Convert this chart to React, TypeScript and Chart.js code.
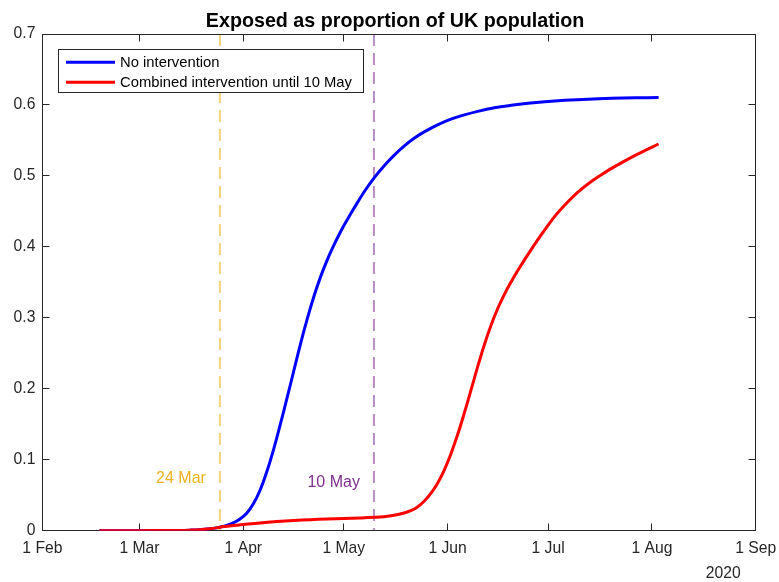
import React, { useEffect, useRef } from 'react';
import { Chart, registerables } from 'chart.js';

Chart.register(...registerables);

// ---- data ----
const monthTickDays = [0, 29, 60, 90, 121, 151, 182, 213]; // days since 1 Feb 2020
const monthTickLabels = ['1 Feb', '1 Mar', '1 Apr', '1 May', '1 Jun', '1 Jul', '1 Aug', '1 Sep'];
const yearLabel = '2020';
const yTickValues = [0, 0.1, 0.2, 0.3, 0.4, 0.5, 0.6, 0.7];
const titleText = 'Exposed as proportion of UK population';
const seriesNames = ['No intervention', 'Combined intervention until 10 May'];

const noInterventionDays = [17, 30, 36, 40, 44, 47, 50, 52, 53, 55, 57, 59, 61, 63, 65, 67, 69, 71, 73, 75, 77, 79, 81, 83, 85, 87, 89, 91, 93, 96, 99, 102, 105, 108, 111, 114, 118, 122, 126, 130, 135, 140, 145, 150, 156, 163, 170, 177, 184];
const noInterventionValues = [0, 0.0001, 0.0002, 0.0004, 0.0008, 0.0014, 0.0027, 0.004, 0.005, 0.0075, 0.011, 0.0165, 0.0245, 0.038, 0.057, 0.083, 0.114, 0.149, 0.186, 0.224, 0.262, 0.297, 0.329, 0.357, 0.381, 0.402, 0.421, 0.438, 0.454, 0.477, 0.497, 0.514, 0.529, 0.542, 0.553, 0.562, 0.572, 0.58, 0.586, 0.591, 0.596, 0.5995, 0.6023, 0.6045, 0.6065, 0.6082, 0.6093, 0.61, 0.6105];

const combinedDays = [17, 30, 36, 40, 44, 47, 50, 52, 53, 55, 57, 60, 65, 70, 75, 80, 85, 90, 95, 99, 102, 105, 108, 110, 112, 114, 116, 118, 120, 122, 124, 126, 128, 130, 132, 134, 136, 138, 140, 142, 144, 146, 148, 150, 153, 156, 160, 164, 168, 172, 176, 180, 184];
const combinedValues = [0, 0.0001, 0.0002, 0.0004, 0.0008, 0.0014, 0.0027, 0.004, 0.005, 0.0062, 0.0074, 0.0088, 0.011, 0.0128, 0.0143, 0.0155, 0.0165, 0.0173, 0.018, 0.0188, 0.0198, 0.0218, 0.025, 0.0282, 0.0335, 0.0415, 0.0525, 0.067, 0.0855, 0.1085, 0.1355, 0.166, 0.1985, 0.2315, 0.2625, 0.29, 0.3135, 0.3335, 0.351, 0.367, 0.382, 0.3965, 0.4105, 0.424, 0.443, 0.459, 0.4775, 0.4925, 0.505, 0.516, 0.5265, 0.536, 0.545];

const markerDays = [53, 99];
const markerLabels = ['24 Mar', '10 May'];
const markerLabelValues = [0.074, 0.068];

// ---- styles ----
const FONT = '"Liberation Sans", Arial, Helvetica, sans-serif';
const AXIS_COLOR = '#262626';
const seriesColors = ['#0000ff', '#ff0000'];
const markerLineColors = ['rgba(237,177,32,0.6)', 'rgba(126,47,142,0.55)'];
const markerTextColors = ['#EDB120', '#7E2F8E'];

const matlabPlugin = {
  id: 'matlabDecor',
  beforeDatasetsDraw(chart: any) {
    const { ctx, chartArea: a, scales } = chart;
    const x = scales.x;
    const y = scales.y;
    ctx.save();
    markerDays.forEach((d, i) => {
      const px = x.getPixelForValue(d);
      ctx.strokeStyle = markerLineColors[i];
      ctx.lineWidth = 2;
      ctx.setLineDash([12, 7]);
      ctx.beginPath();
      ctx.moveTo(px, a.top);
      ctx.lineTo(px, a.bottom);
      ctx.stroke();
      ctx.setLineDash([]);
      ctx.fillStyle = markerTextColors[i];
      ctx.font = '16px ' + FONT;
      ctx.textAlign = 'right';
      ctx.textBaseline = 'middle';
      ctx.fillText(markerLabels[i], px - 14, y.getPixelForValue(markerLabelValues[i]));
    });
    const L = Math.floor(a.left) + 0.5;
    const R = Math.floor(a.right) + 0.5;
    const T = Math.floor(a.top) + 0.5;
    const B = Math.floor(a.bottom) + 0.5;
    ctx.strokeStyle = AXIS_COLOR;
    ctx.lineWidth = 1;
    ctx.strokeRect(L, T, R - L, B - T);
    const tl = 7;
    ctx.beginPath();
    monthTickDays.forEach((d) => {
      const px = Math.floor(x.getPixelForValue(d)) + 0.5;
      ctx.moveTo(px, B);
      ctx.lineTo(px, B - tl);
      ctx.moveTo(px, T);
      ctx.lineTo(px, T + tl);
    });
    yTickValues.forEach((v) => {
      const py = Math.floor(y.getPixelForValue(v)) + 0.5;
      ctx.moveTo(L, py);
      ctx.lineTo(L + tl, py);
      ctx.moveTo(R, py);
      ctx.lineTo(R - tl, py);
    });
    ctx.stroke();
    ctx.restore();
  },
  afterDatasetsDraw(chart: any) {
    const { ctx, chartArea: a } = chart;
    ctx.save();
    const bx = 58.5, by = 49.5, bw = 305, bh = 43;
    ctx.fillStyle = '#ffffff';
    ctx.fillRect(bx, by, bw, bh);
    ctx.strokeStyle = AXIS_COLOR;
    ctx.lineWidth = 1;
    ctx.strokeRect(bx, by, bw, bh);
    const rows = [62.3, 82.3];
    seriesNames.forEach((name, i) => {
      ctx.strokeStyle = seriesColors[i];
      ctx.lineWidth = 3;
      ctx.beginPath();
      ctx.moveTo(66, rows[i]);
      ctx.lineTo(115, rows[i]);
      ctx.stroke();
      ctx.fillStyle = '#000000';
      ctx.font = '14.8px ' + FONT;
      ctx.textAlign = 'left';
      ctx.textBaseline = 'middle';
      ctx.fillText(name, 120, rows[i] + 0.5);
    });
    ctx.fillStyle = '#000000';
    ctx.font = 'bold 19.7px ' + FONT;
    ctx.textAlign = 'center';
    ctx.textBaseline = 'alphabetic';
    ctx.fillText(titleText, (a.left + a.right) / 2 - 4, 27);
    ctx.fillStyle = AXIS_COLOR;
    ctx.font = '15.7px ' + FONT;
    ctx.textAlign = 'right';
    ctx.fillText(yearLabel, a.right - 15, 578);
    ctx.restore();
  },
};

export default function App() {
  const ref = useRef<HTMLCanvasElement | null>(null);
  useEffect(() => {
    if (!ref.current) return;
    const chart = new Chart(ref.current, {
      type: 'line',
      data: {
        datasets: [
          {
            label: seriesNames[0],
            data: noInterventionDays.map((d, i) => ({ x: d, y: noInterventionValues[i] })),
            borderColor: seriesColors[0],
            borderWidth: 3,
            pointRadius: 0,
            tension: 0.4,
            fill: false,
            order: 1,
          },
          {
            label: seriesNames[1],
            data: combinedDays.map((d, i) => ({ x: d, y: combinedValues[i] })),
            borderColor: seriesColors[1],
            borderWidth: 3,
            pointRadius: 0,
            tension: 0.4,
            fill: false,
            order: 0,
          },
        ],
      },
      options: {
        responsive: false,
        animation: false,
        devicePixelRatio: 1,
        layout: { padding: { top: 34, right: 23.3, left: 0, bottom: 0 } },
        plugins: {
          legend: { display: false },
          title: { display: false },
          tooltip: { enabled: false },
        },
        scales: {
          x: {
            type: 'linear',
            min: 0,
            max: 213,
            afterFit: (s: any) => {
              s.height = 51.3;
              s.paddingLeft = 0;
              s.paddingRight = 0;
            },
            afterBuildTicks: (s: any) => { s.ticks = monthTickDays.map((v) => ({ value: v })); },
            ticks: {
              autoSkip: false,
              maxRotation: 0,
              padding: 9,
              color: AXIS_COLOR,
              font: { family: FONT, size: 15.7 },
              callback: (v: any) => {
                const idx = monthTickDays.indexOf(Number(v));
                return idx >= 0 ? monthTickLabels[idx] : '';
              },
            },
            grid: { display: false, drawTicks: false },
            border: { display: false },
          },
          y: {
            type: 'linear',
            min: 0,
            max: 0.7,
            afterFit: (s: any) => {
              s.width = 42.4;
              s.paddingTop = 0;
              s.paddingBottom = 0;
            },
            afterBuildTicks: (s: any) => { s.ticks = yTickValues.map((v) => ({ value: v })); },
            ticks: {
              padding: 7,
              color: AXIS_COLOR,
              font: { family: FONT, size: 15.7 },
              callback: (v: any) => (Number(v) === 0 ? '0' : Number(v).toFixed(1)),
            },
            grid: { display: false, drawTicks: false },
            border: { display: false },
          },
        },
      },
      plugins: [matlabPlugin],
    });
    return () => chart.destroy();
  }, []);
  return (
    <div style={{ position: 'fixed', left: 0, top: 0, width: 779, height: 582, background: '#ffffff' }}>
      <canvas ref={ref} width={779} height={582} style={{ display: 'block', width: 779, height: 582 }} />
    </div>
  );
}
